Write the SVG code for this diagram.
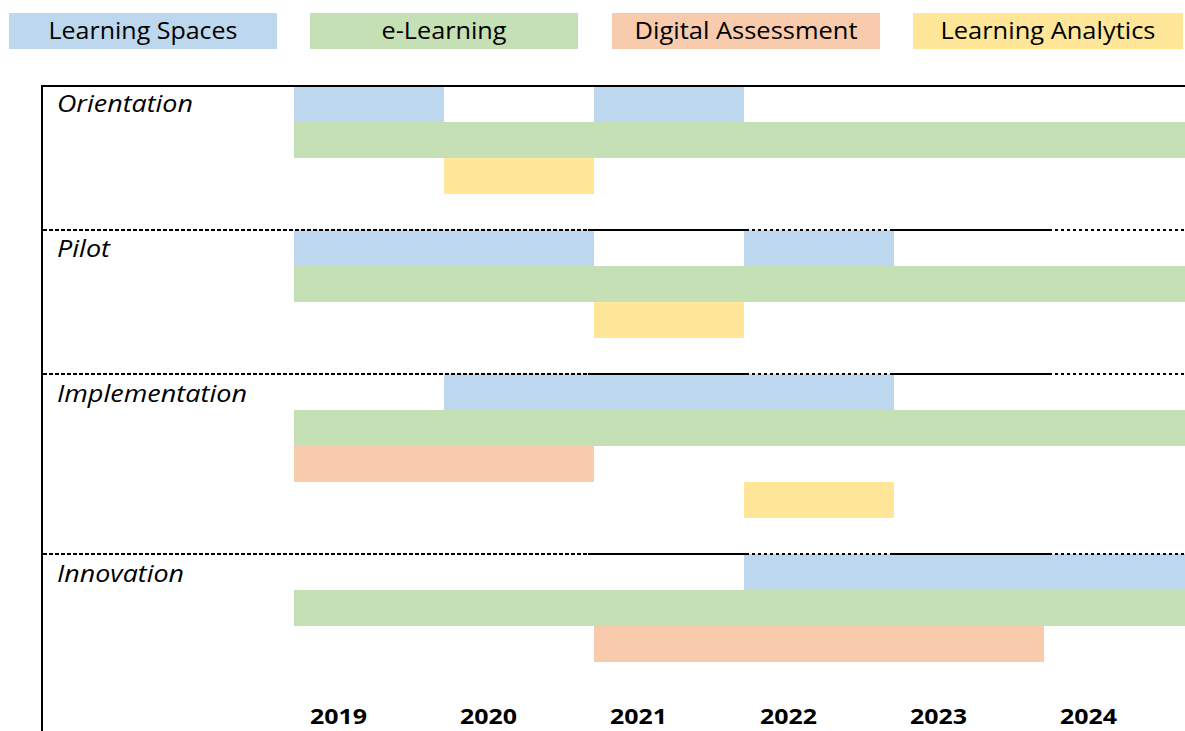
<svg xmlns="http://www.w3.org/2000/svg" width="1185" height="731" viewBox="0 0 1185 731">
<style>
.ls{fill:#BDD7EE}.el{fill:#C5E0B4}.da{fill:#F8CBAD}.la{fill:#FFE699}
.lg{font-family:"Open Sans","Noto Sans","Liberation Sans",sans-serif;font-size:23px;fill:#000;text-anchor:middle}
.ph{font-family:"Open Sans","Noto Sans","Liberation Sans",sans-serif;font-size:23px;font-style:italic;fill:#000}
.yr{font-family:"Open Sans","Noto Sans","Liberation Sans",sans-serif;font-size:22px;font-weight:bold;fill:#000}
.frame{stroke:#000;stroke-width:2;fill:none}
.d1{stroke:#000;stroke-width:2;stroke-dasharray:4 2}
.d2{stroke:#000;stroke-width:2;stroke-dasharray:3 3}
.s{stroke:#000;stroke-width:2}
</style>
<rect width="1185" height="731" fill="#fff"/>
<g id="legend">
<g id="legend-ls"><rect class="ls" x="9" y="13" width="268" height="36"/><text class="lg" x="143" y="39" textLength="189" lengthAdjust="spacingAndGlyphs">Learning Spaces</text></g>
<g id="legend-el"><rect class="el" x="310" y="13" width="268" height="36"/><text class="lg" x="444" y="39" textLength="125" lengthAdjust="spacingAndGlyphs">e-Learning</text></g>
<g id="legend-da"><rect class="da" x="612" y="13" width="268" height="36"/><text class="lg" x="746" y="39" textLength="223" lengthAdjust="spacingAndGlyphs">Digital Assessment</text></g>
<g id="legend-la"><rect class="la" x="913" y="13" width="270" height="36"/><text class="lg" x="1048" y="39" textLength="215" lengthAdjust="spacingAndGlyphs">Learning Analytics</text></g>
</g>
<g id="bars">
<g id="orientation">
<rect class="ls" x="294" y="86" width="150" height="36"/>
<rect class="ls" x="594" y="86" width="150" height="36"/>
<rect class="el" x="294" y="122" width="891" height="36"/>
<rect class="la" x="444" y="158" width="150" height="36"/>
<text class="ph" x="57" y="112" textLength="136" lengthAdjust="spacingAndGlyphs">Orientation</text>
</g>
<g id="pilot">
<rect class="ls" x="294" y="230" width="300" height="36"/>
<rect class="ls" x="744" y="230" width="150" height="36"/>
<rect class="el" x="294" y="266" width="891" height="36"/>
<rect class="la" x="594" y="302" width="150" height="36"/>
<text class="ph" x="57" y="257" textLength="53" lengthAdjust="spacingAndGlyphs">Pilot</text>
</g>
<g id="implementation">
<rect class="ls" x="444" y="374" width="450" height="36"/>
<rect class="el" x="294" y="410" width="891" height="36"/>
<rect class="da" x="294" y="446" width="300" height="36"/>
<rect class="la" x="744" y="482" width="150" height="36"/>
<text class="ph" x="57" y="402" textLength="190" lengthAdjust="spacingAndGlyphs">Implementation</text>
</g>
<g id="innovation">
<rect class="ls" x="744" y="554" width="441" height="36"/>
<rect class="el" x="294" y="590" width="891" height="36"/>
<rect class="da" x="594" y="626" width="450" height="36"/>
<text class="ph" x="57" y="582" textLength="127" lengthAdjust="spacingAndGlyphs">Innovation</text>
</g>
</g>
<g id="lines">
<line class="frame" x1="42" y1="86" x2="1185" y2="86"/>
<line class="frame" x1="42" y1="85" x2="42" y2="731"/>
<g id="sep1">
<line class="d1" x1="43" y1="230" x2="588" y2="230"/><line class="s" x1="588" y1="230" x2="746" y2="230"/><line class="d2" x1="746" y1="230" x2="892" y2="230"/><line class="s" x1="892" y1="230" x2="1049" y2="230"/><line class="d2" x1="1049" y1="230" x2="1185" y2="230"/>
</g>
<g id="sep2">
<line class="d1" x1="43" y1="374" x2="588" y2="374"/><line class="s" x1="588" y1="374" x2="746" y2="374"/><line class="d2" x1="746" y1="374" x2="892" y2="374"/><line class="s" x1="892" y1="374" x2="1049" y2="374"/><line class="d2" x1="1049" y1="374" x2="1185" y2="374"/>
</g>
<g id="sep3">
<line class="d1" x1="43" y1="554" x2="588" y2="554"/><line class="s" x1="588" y1="554" x2="746" y2="554"/><line class="d2" x1="746" y1="554" x2="892" y2="554"/><line class="s" x1="892" y1="554" x2="1049" y2="554"/><line class="d2" x1="1049" y1="554" x2="1185" y2="554"/>
</g>
</g>
<g id="years">
<text class="yr" x="310" y="724" textLength="57" lengthAdjust="spacingAndGlyphs">2019</text>
<text class="yr" x="460" y="724" textLength="57" lengthAdjust="spacingAndGlyphs">2020</text>
<text class="yr" x="610" y="724" textLength="57" lengthAdjust="spacingAndGlyphs">2021</text>
<text class="yr" x="760" y="724" textLength="57" lengthAdjust="spacingAndGlyphs">2022</text>
<text class="yr" x="910" y="724" textLength="57" lengthAdjust="spacingAndGlyphs">2023</text>
<text class="yr" x="1060" y="724" textLength="57" lengthAdjust="spacingAndGlyphs">2024</text>
</g>
</svg>
